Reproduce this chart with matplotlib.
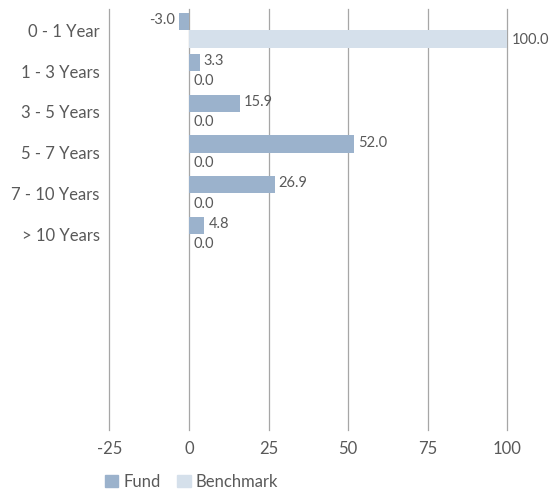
import matplotlib
matplotlib.use("Agg")
import matplotlib.pyplot as plt
import numpy as np
from matplotlib.patches import Patch

categories = ["0 - 1 Year", "1 - 3 Years", "3 - 5 Years", "5 - 7 Years", "7 - 10 Years", "> 10 Years"]
fund = [-3.0, 3.3, 15.9, 52.0, 26.9, 4.8]
benchmark = [100.0, 0.0, 0.0, 0.0, 0.0, 0.0]
xticks = [-25, 0, 25, 50, 75, 100]

fund_color = "#9bb2cc"
bench_color = "#d5e0eb"
text_color = "#595959"
grid_color = "#a6a6a6"

plt.rcParams['font.family'] = ['Lato', 'DejaVu Sans']

fig = plt.figure(figsize=(5.53, 4.90), dpi=100)
ax = fig.add_axes([0.198, 0.1224, 0.719, 0.859])

y = np.arange(len(categories))
h = 0.425
ax.barh(y - h / 2, fund, height=h, color=fund_color, zorder=3)
ax.barh(y + h / 2, benchmark, height=h, color=bench_color, zorder=3)

for yi, v in zip(y, fund):
    if v < 0:
        ax.annotate(f"{v:.1f}", (v, yi - h / 2), xytext=(-3, 1), textcoords="offset points",
                    ha="right", va="center", fontsize=10.5, color=text_color)
    else:
        ax.annotate(f"{v:.1f}", (v, yi - h / 2), xytext=(3, 1), textcoords="offset points",
                    ha="left", va="center", fontsize=10.5, color=text_color)
for yi, v in zip(y, benchmark):
    ax.annotate(f"{v:.1f}", (v, yi + h / 2), xytext=(3, -1), textcoords="offset points",
                ha="left", va="center", fontsize=10.5, color=text_color)

ax.set_xlim(-25, 100)
ax.set_ylim(9.8, -0.52)
ax.set_xticks(xticks)
ax.set_xticklabels([str(t) for t in xticks])
ax.set_yticks(y)
ax.set_yticklabels(categories)
ax.tick_params(axis="both", length=0, labelsize=12, labelcolor=text_color)
ax.tick_params(axis="y", pad=7)
ax.tick_params(axis="x", pad=8)
ax.grid(axis="x", color=grid_color, linewidth=0.9, zorder=0)
for gl in ax.xaxis.get_gridlines():
    gl.set_clip_on(False)
for s in ax.spines.values():
    s.set_visible(False)

handles = [Patch(color=fund_color, label="Fund"), Patch(color=bench_color, label="Benchmark")]
fig.legend(handles=handles, loc="lower left", bbox_to_anchor=(0.163, -0.03), ncol=2, frameon=False,
           fontsize=12, handlelength=0.8, handleheight=0.8, handletextpad=0.3, columnspacing=1.0,
           labelcolor=text_color)

fig.savefig("out.png", dpi=100)
